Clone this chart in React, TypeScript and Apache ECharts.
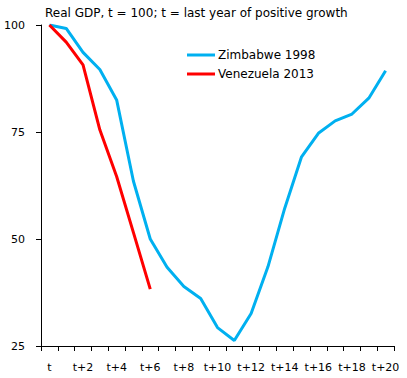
import React, { useEffect, useRef } from "react";
import * as echarts from "echarts";

const categories = ["t", "t+1", "t+2", "t+3", "t+4", "t+5", "t+6", "t+7", "t+8", "t+9", "t+10", "t+11", "t+12", "t+13", "t+14", "t+15", "t+16", "t+17", "t+18", "t+19", "t+20"];
const zimbabwe = [100, 99.2, 93.6, 89.6, 82.5, 63.5, 50, 43.4, 38.9, 36.1, 29.3, 26.3, 32.6, 43.5, 57.2, 69.2, 74.7, 77.6, 79.2, 82.9, 89.3];
const venezuela = [100, 96, 90.7, 75.5, 64.6, 51.5, 38.3];
const yTicks = { min: 25, max: 100, interval: 25 };
const titleText = "Real GDP, t = 100; t = last year of positive growth";
const seriesNames = ["Zimbabwe 1998", "Venezuela 2013"];

const FONT = "DejaVu Sans";

export default function App() {
  const ref = useRef<HTMLDivElement>(null);
  useEffect(() => {
    if (!ref.current) return;
    const chart = echarts.init(ref.current, null, { renderer: "svg" });
    chart.setOption({
      animation: false,
      backgroundColor: "#ffffff",
      textStyle: { fontFamily: FONT },
      title: {
        text: titleText,
        left: 45,
        top: 7,
        padding: 0,
        textStyle: { fontFamily: FONT, fontSize: 12, fontWeight: "normal", color: "#000" },
      },
      legend: {
        orient: "vertical",
        left: 182,
        top: 44,
        itemWidth: 28,
        itemHeight: 3,
        itemGap: 7,
        icon: "rect",
        data: seriesNames,
        textStyle: { fontFamily: FONT, fontSize: 12, color: "#000", padding: [0, 0, 0, -2] },
      },
      grid: { left: 41, right: 13, top: 25, bottom: 32, containLabel: false },
      xAxis: {
        type: "category",
        data: categories,
        boundaryGap: true,
        axisLine: { lineStyle: { color: "#000", width: 1 } },
        axisTick: { show: true, interval: 0, length: 5, lineStyle: { color: "#000" } },
        axisLabel: { interval: 1, color: "#000", fontFamily: FONT, fontSize: 11, margin: 16 },
        splitLine: { show: false },
      },
      yAxis: {
        type: "value",
        min: yTicks.min,
        max: yTicks.max,
        interval: yTicks.interval,
        axisLine: { show: true, lineStyle: { color: "#000", width: 1 } },
        axisTick: { show: true, length: 5, lineStyle: { color: "#000" } },
        axisLabel: { color: "#000", fontFamily: FONT, fontSize: 11, margin: 16 },
        splitLine: { show: false },
      },
      series: [
        {
          name: seriesNames[0],
          type: "line",
          data: zimbabwe,
          symbol: "none",
          color: "#00B0F0",
          lineStyle: { color: "#00B0F0", width: 3 },
        },
        {
          name: seriesNames[1],
          type: "line",
          data: venezuela,
          symbol: "none",
          color: "#FF0000",
          lineStyle: { color: "#FF0000", width: 3 },
        },
      ],
    });
    return () => chart.dispose();
  }, []);
  return <div ref={ref} style={{ width: 407, height: 378, position: "absolute", left: 0, top: 0 }} />;
}
